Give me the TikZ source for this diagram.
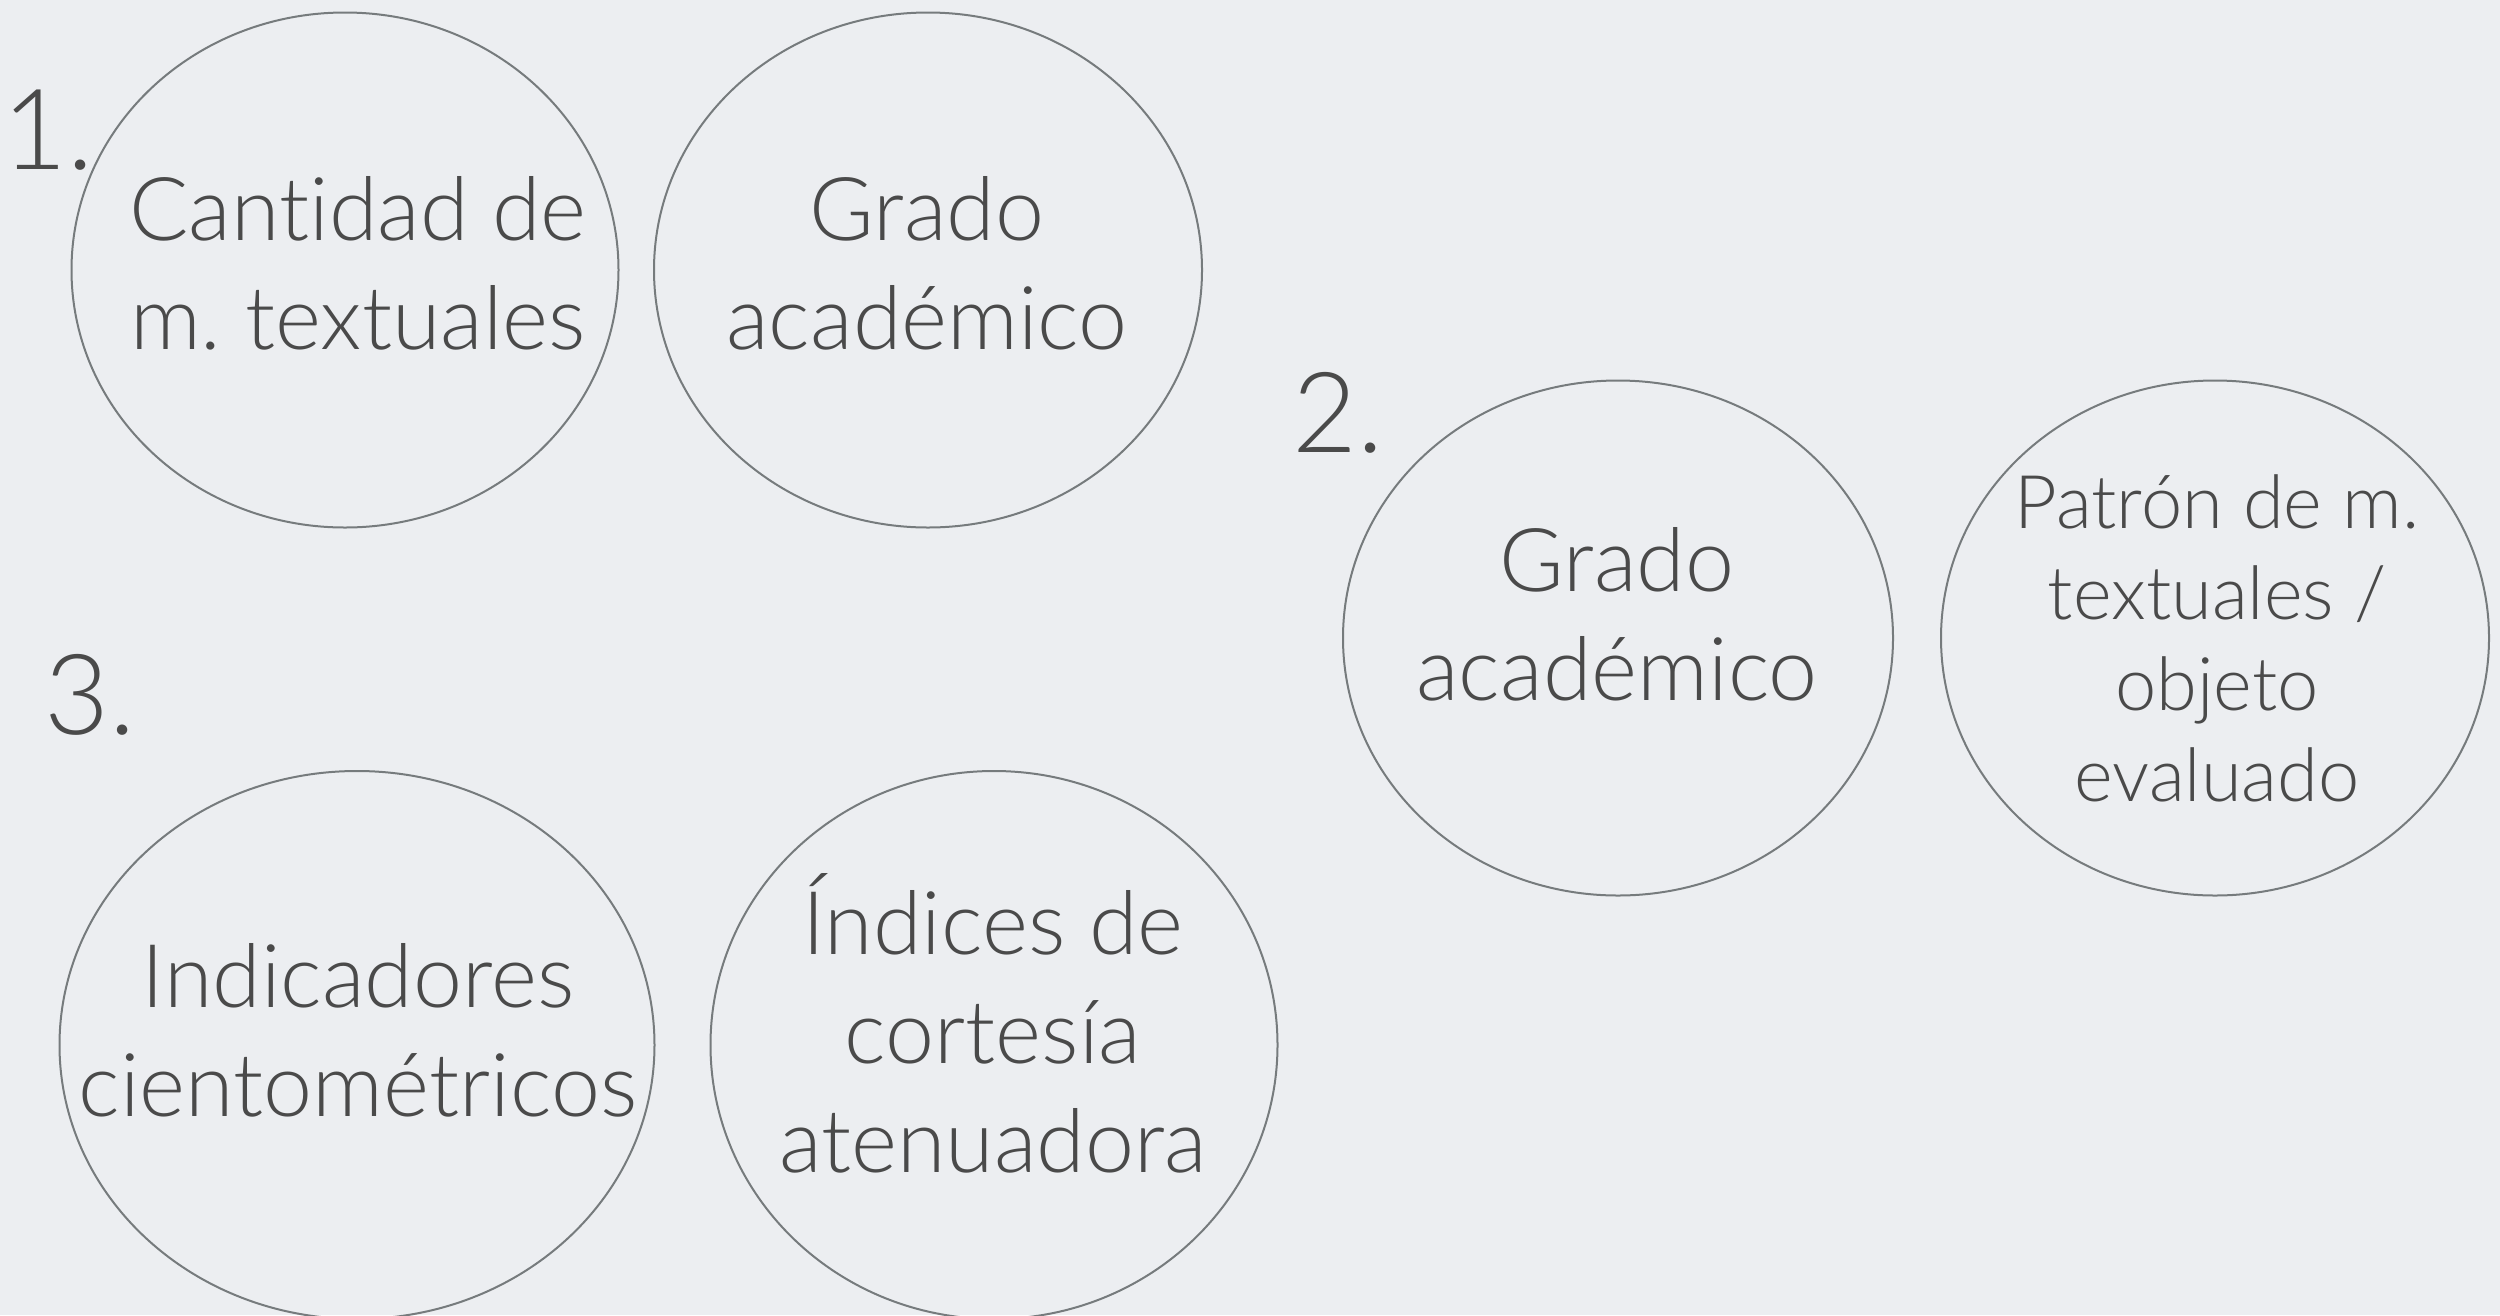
\documentclass[tikz,border=0pt]{standalone}
\usepackage{fontspec}
\setmainfont{Lato}[UprightFont={* Light}, Ligatures=NoCommon]
\usetikzlibrary{shapes.geometric}
\definecolor{bg}{HTML}{ECEEF1}
\definecolor{txt}{HTML}{4A4A4A}
\definecolor{ring}{HTML}{767B7D}
\frenchspacing
\begin{document}
\begin{tikzpicture}[x=1pt,y=-1pt,
  oval/.style={draw=ring, line width=2pt, ellipse, inner sep=0pt},
  lbl/.style={text=txt, align=center, font=\fontsize{88}{109}\selectfont, anchor=base, inner sep=0pt},
  small/.style={lbl, font=\fontsize{74}{90.7}\selectfont},
  num/.style={text=txt, font=\fontsize{112}{120}\selectfont, anchor=base west, inner sep=0pt}]
\fill[bg] (0,0) rectangle (2500,1315);
\useasboundingbox (0,0) rectangle (2500,1315);

\node[oval, minimum width=547pt, minimum height=515pt] (eA) at (345,270) {};
\node[oval, minimum width=548pt, minimum height=515pt] (eB) at (928,270) {};
\node[oval, minimum width=550pt, minimum height=515pt] (eC) at (1618,638) {};
\node[oval, minimum width=548pt, minimum height=515pt] (eD) at (2215,638) {};
\node[oval, minimum width=595pt, minimum height=548pt] (eE) at (357,1045) {};
\node[oval, minimum width=567pt, minimum height=548pt] (eF) at (994,1045) {};

\node[num] (n1) at (2,169) {1.};
\node[num] (n2) at (1292,452) {2.};
\node[num] (n3) at (44,734) {3.};

\node[lbl] (tA) at (358,349) {Cantidad de\\m. textuales};
\node[lbl] (tB) at (927,349) {Grado\\académico};
\node[lbl] (tC) at (1617,700) {Grado\\académico};
\node[small] (tD) at (2217,801) {Patrón de m.\\textuales /\\objeto\\evaluado};
\node[lbl] (tE) at (358,1116) {Indicadores\\cientométricos};
\node[lbl] (tF) at (993,1172) {Índices de\\cortesía\\atenuadora};
\end{tikzpicture}
\end{document}
